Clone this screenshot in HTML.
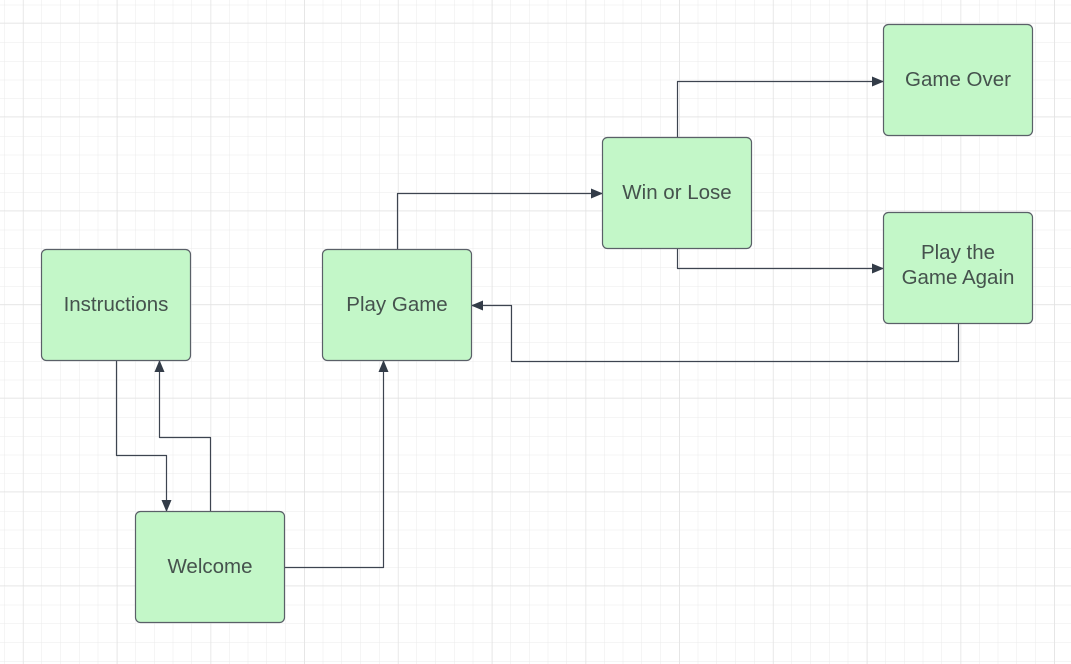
<!DOCTYPE html>
<html><head><meta charset="utf-8"><style>
html,body{margin:0;padding:0;background:#fff;}
svg{display:block;}
text{font-family:"Liberation Sans",sans-serif;font-size:20.5px;fill:#45524d;}
</style></head><body>
<svg width="1071" height="664" viewBox="0 0 1071 664" xmlns="http://www.w3.org/2000/svg">
<defs>
<pattern id="minor" x="4" y="4.75" width="18.75" height="18.75" patternUnits="userSpaceOnUse">
<path d="M0 0H18.75M0 0V18.75" stroke="#ebebeb" stroke-width="1" fill="none"/>
</pattern>
<pattern id="major" x="23.25" y="22.75" width="93.75" height="93.75" patternUnits="userSpaceOnUse">
<path d="M0 0H93.75M0 0V93.75" stroke="#e0e0e0" stroke-width="1" fill="none"/>
</pattern>
<marker id="ar" markerWidth="12" markerHeight="10" refX="11" refY="5" orient="auto" markerUnits="userSpaceOnUse">
<path d="M0 0L12 5L0 10Z" fill="#333c48"/>
</marker>
</defs>
<rect width="1071" height="664" fill="#fff"/>
<rect width="1071" height="664" fill="url(#minor)"/>
<rect width="1071" height="664" fill="url(#major)"/>
<g fill="none" stroke="#3d4450" stroke-width="1.2" stroke-linejoin="round" marker-end="url(#ar)">
<path d="M116.5 361V455.5H166.5V511"/>
<path d="M210.5 511V437.5H159.5V361"/>
<path d="M285 567.5H383.5V361"/>
<path d="M397.5 249V193.5H602"/>
<path d="M677.5 137V81.5H883"/>
<path d="M677.5 249V268.5H883"/>
<path d="M958.5 324V361.5H511.5V305.5H472"/>
</g>
<g fill="#c3f7c8" stroke="#5a6068" stroke-width="1.2">
<rect x="41.5" y="249.5" width="149" height="111" rx="5"/>
<rect x="322.5" y="249.5" width="149" height="111" rx="5"/>
<rect x="135.5" y="511.5" width="149" height="111" rx="5"/>
<rect x="602.5" y="137.5" width="149" height="111" rx="5"/>
<rect x="883.5" y="24.5" width="149" height="111" rx="5"/>
<rect x="883.5" y="212.5" width="149" height="111" rx="5"/>
</g>
<g text-anchor="middle">
<text x="116" y="311">Instructions</text>
<text x="397" y="311">Play Game</text>
<text x="210" y="573">Welcome</text>
<text x="677" y="199">Win or Lose</text>
<text x="958" y="86">Game Over</text>
<text x="958" y="259">Play the</text>
<text x="958" y="284">Game Again</text>
</g>
</svg>
</body></html>
